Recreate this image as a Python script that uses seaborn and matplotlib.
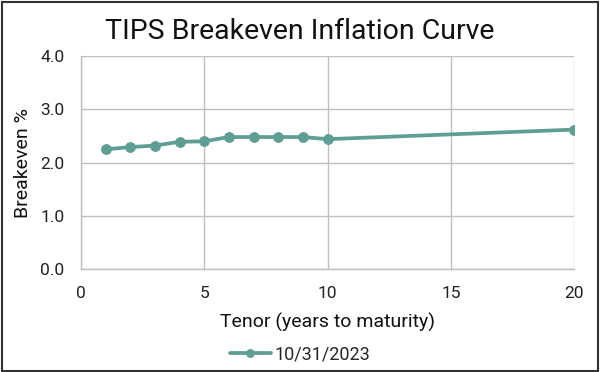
import matplotlib
matplotlib.use("Agg")
import matplotlib.pyplot as plt
import seaborn as sns
import pandas as pd

tenor = [1, 2, 3, 4, 5, 6, 7, 8, 9, 10, 20]
breakeven = [2.25, 2.29, 2.32, 2.39, 2.40, 2.48, 2.48, 2.48, 2.48, 2.44, 2.62]
series_label = "10/31/2023"
x_ticks = [0, 5, 10, 15, 20]
y_ticks = [0.0, 1.0, 2.0, 3.0, 4.0]

sns.set_theme(style="white")
plt.rcParams['font.family'] = ['Roboto', 'DejaVu Sans']

df = pd.DataFrame({"Tenor": tenor, "Breakeven": breakeven})

fig = plt.figure(figsize=(6, 3.72), dpi=100)
ax = fig.add_axes([0.135, 0.277, 0.822, 0.572])
color = "#5f9e95"
sns.lineplot(data=df, x="Tenor", y="Breakeven", ax=ax, color=color, linewidth=2.7,
             marker="o", markersize=7, markeredgecolor=color, label=series_label)

ax.set_xlim(0, 20)
ax.set_ylim(0, 4)
ax.set_xticks(x_ticks)
ax.set_yticks(y_ticks)
ax.set_yticklabels([f"{v:.1f}" for v in y_ticks])
ax.tick_params(axis="both", labelsize=12.5, colors="#222222", length=0)
ax.tick_params(axis="x", pad=12)
ax.tick_params(axis="y", pad=12)
ax.grid(True, color="#bfbfbf", linewidth=1)
for s in ["top", "right"]:
    ax.spines[s].set_visible(False)
for s in ["left", "bottom"]:
    ax.spines[s].set_color("#bfbfbf")
    ax.spines[s].set_linewidth(1)
ax.set_xlabel("Tenor (years to maturity)", fontsize=14, color="#111111", labelpad=9)
ax.set_ylabel("Breakeven %", fontsize=14, color="#111111", labelpad=6)
fig.suptitle("TIPS Breakeven Inflation Curve", fontsize=20.5, x=0.5, y=0.952, color="#111111")

ax.get_legend().remove()
handles, labels = ax.get_legend_handles_labels()
fig.legend(handles, labels, loc="center", bbox_to_anchor=(0.5, 0.048), frameon=False,
           fontsize=13, handlelength=2.3, handletextpad=0.2, markerscale=0.8)

border = plt.Rectangle((0.003, 0.004), 0.993, 0.991, transform=fig.transFigure,
                       fill=False, edgecolor="#333333", linewidth=1.5)
fig.patches.append(border)

fig.savefig("out.png", dpi=100)
